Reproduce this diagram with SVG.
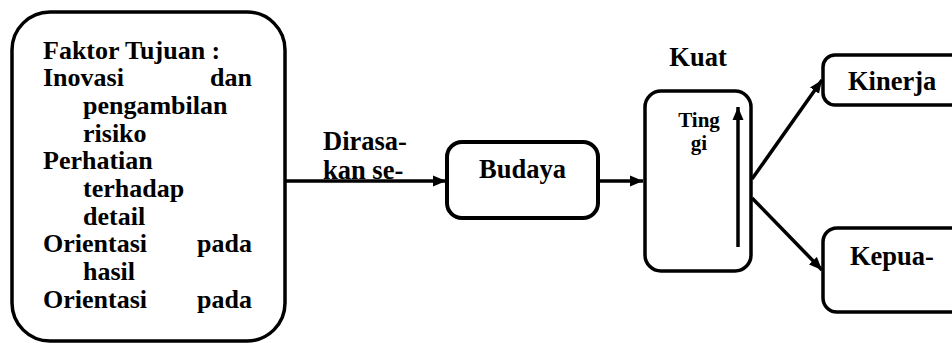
<svg xmlns="http://www.w3.org/2000/svg" width="952" height="343" viewBox="0 0 952 343">
<style>
text{font-family:"Liberation Serif","Times New Roman",serif;font-weight:bold;fill:#000;font-size:26.5px}
.box{fill:#fff;stroke:#000;stroke-width:3.5}
.c{text-anchor:middle}
.e{text-anchor:end}
.ln{stroke:#000;stroke-width:3.5;fill:none}
.f{font-size:26px}
.s{font-size:21px}
</style>
<defs>
<marker id="ah" markerUnits="userSpaceOnUse" markerWidth="14" markerHeight="12" refX="13" refY="6" orient="auto">
<path d="M0,0.5 L13,6 L0,11.5 z" fill="#000"/>
</marker>
</defs>
<g id="faktor">
<rect class="box" x="12" y="12" width="273" height="329" rx="38" ry="38"/>
<text class="f" x="43" y="59">Faktor Tujuan :</text>
<text class="f" x="43" y="86">Inovasi</text><text class="f e" x="252" y="86">dan</text>
<text class="f" x="83" y="114">pengambilan</text>
<text class="f" x="83" y="142">risiko</text>
<text class="f" x="43" y="169">Perhatian</text>
<text class="f" x="83" y="197">terhadap</text>
<text class="f" x="83" y="225">detail</text>
<text class="f" x="43" y="252">Orientasi</text><text class="f e" x="252" y="252">pada</text>
<text class="f" x="83" y="280">hasil</text>
<text class="f" x="43" y="308">Orientasi</text><text class="f e" x="252" y="308">pada</text>
</g>
<g id="budaya">
<rect class="box" x="447" y="142" width="151" height="76" rx="15" ry="15" style="stroke-width:4"/>
<text class="c" x="522.5" y="178">Budaya</text>
</g>
<g id="kuat">
<text class="c" x="698" y="66">Kuat</text>
<rect class="box" x="645" y="91" width="106" height="180" rx="16" ry="16"/>
<text class="c s" x="699" y="127">Ting</text>
<text class="c s" x="699" y="150">gi</text>
<line class="ln" x1="738" y1="247" x2="738" y2="107" marker-end="url(#ah)"/>
</g>
<g id="kinerja">
<rect class="box" x="823" y="55" width="160" height="50" rx="12" ry="12"/>
<text x="848" y="90">Kinerja</text>
</g>
<g id="kepuasan">
<rect class="box" x="823" y="228" width="160" height="84" rx="14" ry="14"/>
<text x="850" y="265">Kepua-</text>
</g>
<g id="connectors">
<line class="ln" x1="285" y1="181" x2="446" y2="181" marker-end="url(#ah)"/>
<text x="323" y="150">Dirasa-</text>
<text x="323" y="179">kan se-</text>
<line class="ln" x1="598" y1="181" x2="643" y2="181" marker-end="url(#ah)"/>
<line class="ln" x1="752" y1="179" x2="822" y2="80" marker-end="url(#ah)"/>
<line class="ln" x1="752" y1="198" x2="822" y2="270" marker-end="url(#ah)"/>
</g>
</svg>
